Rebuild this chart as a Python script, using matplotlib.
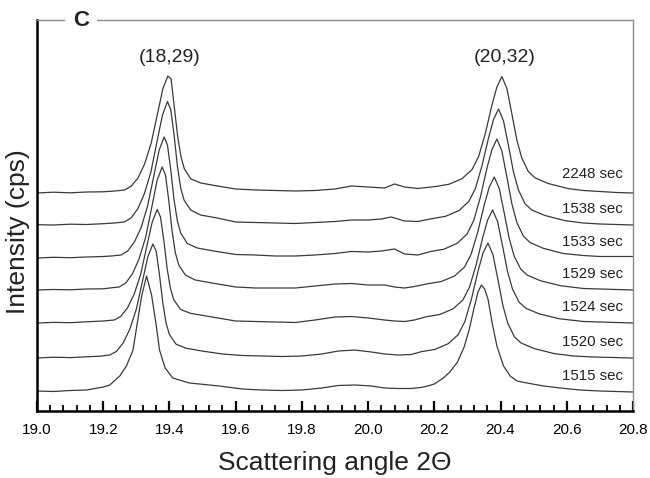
import matplotlib
matplotlib.use("Agg")
import matplotlib.pyplot as plt
from matplotlib.ticker import MultipleLocator, FormatStrFormatter

plt.rcParams['font.family'] = ['Liberation Sans', 'DejaVu Sans']

# scan labels (bottom to top) and vertical offsets of the stacked patterns
labels = ["1515 sec", "1520 sec", "1524 sec", "1529 sec", "1533 sec", "1538 sec", "2248 sec"]
offsets = [19, 53, 88, 121, 153, 186, 218]

# intensity above each pattern's own baseline
x_1515 = [19.00, 19.05, 19.10, 19.15, 19.20, 19.22, 19.25, 19.27, 19.29, 19.30, 19.316, 19.331, 19.346,
          19.36, 19.37, 19.387, 19.41, 19.46, 19.55, 19.62, 19.68, 19.74, 19.80, 19.86, 19.91, 19.96,
          20.01, 20.05, 20.09, 20.13, 20.16, 20.18, 20.20, 20.227, 20.247, 20.27, 20.29, 20.305, 20.32,
          20.332, 20.342, 20.352, 20.362, 20.374, 20.389, 20.409, 20.429, 20.45, 20.48, 20.53, 20.58,
          20.64, 20.70, 20.75, 20.80]
y_1515 = [1, 0.5, 1.5, 2, 5, 7, 16, 26, 42, 63, 96, 116, 97, 67, 42, 24, 14, 9, 6, 3, 2, 1.5, 2, 4,
          6.5, 7, 6, 4, 3.5, 3.5, 4.5, 6, 8, 14, 20, 30, 45, 62, 84, 100, 107, 103, 93, 70, 46, 26, 16,
          11, 9, 6, 4, 2, 1, 0.5, 0]

x_1520 = [19.00, 19.05, 19.10, 19.15, 19.19, 19.22, 19.24, 19.26, 19.28, 19.30, 19.32, 19.335, 19.35,
          19.36, 19.37, 19.38, 19.39, 19.40, 19.42, 19.45, 19.50, 19.56, 19.62, 19.68, 19.74, 19.80,
          19.86, 19.91, 19.96, 20.01, 20.05, 20.09, 20.13, 20.162, 20.202, 20.242, 20.272, 20.292,
          20.312, 20.332, 20.347, 20.362, 20.377, 20.392, 20.407, 20.422, 20.442, 20.462, 20.502,
          20.562, 20.62, 20.68, 20.74, 20.80]
y_1520 = [0, 0.8, 0.4, 1.2, 1.8, 3, 6.6, 15, 28.5, 48.8, 79, 101.5, 114, 106.6, 83, 55, 34.6, 23.4,
          13.8, 9.8, 6.9, 4, 2.5, 2, 1.5, 2, 4, 7, 8, 6, 4, 3, 3.5, 6.4, 8.6, 14.3, 23.3, 36.3, 58.8,
          86.9, 105, 115, 103.3, 78.5, 52.6, 34.6, 21.1, 15, 9.4, 4.4, 2, 1, 0.5, 0]

x_1524 = [19.00, 19.05, 19.10, 19.15, 19.20, 19.233, 19.253, 19.273, 19.293, 19.313, 19.333, 19.348,
          19.363, 19.373, 19.383, 19.393, 19.403, 19.413, 19.433, 19.463, 19.513, 19.60, 19.66, 19.72,
          19.78, 19.84, 19.90, 19.95, 20.00, 20.05, 20.08, 20.11, 20.14, 20.176, 20.216, 20.256,
          20.286, 20.306, 20.326, 20.346, 20.361, 20.376, 20.391, 20.406, 20.421, 20.436, 20.456,
          20.476, 20.516, 20.576, 20.65, 20.70, 20.75, 20.80]
y_1524 = [0, 0.6, 0.3, 1.2, 2, 3, 6.6, 15, 28.4, 48.5, 78.8, 101, 113.5, 106, 82.6, 54.6, 34.5, 23.3,
          13.7, 9.7, 6.9, 2, 1.5, 1, 0.5, 3, 6, 6.5, 5, 3, 2, 1.5, 3, 6.3, 8.5, 14, 22.9, 35.7, 57.8,
          85.4, 103, 113, 101.5, 77.1, 51.7, 34, 20.8, 14.8, 9.2, 4.3, 1.5, 1, 0.5, 0]

x_1529 = [19.00, 19.05, 19.10, 19.15, 19.20, 19.22, 19.248, 19.268, 19.288, 19.308, 19.328, 19.348,
          19.363, 19.378, 19.388, 19.398, 19.408, 19.418, 19.428, 19.448, 19.478, 19.528, 19.60, 19.66,
          19.72, 19.78, 19.84, 19.90, 19.95, 20.00, 20.05, 20.08, 20.11, 20.14, 20.181, 20.221, 20.261,
          20.291, 20.311, 20.331, 20.351, 20.366, 20.381, 20.396, 20.411, 20.426, 20.441, 20.461,
          20.481, 20.521, 20.581, 20.65, 20.70, 20.75, 20.80]
y_1529 = [0, 0.5, 0.2, 1, 1.2, 2, 3, 7, 16, 31, 52.5, 85, 110, 123, 115, 89.5, 59, 37, 25, 15, 10, 7,
          3, 2, 2, 2, 4, 6, 6.5, 5, 5, 3, 2, 3.5, 6.3, 8.5, 14, 22.9, 35.7, 57.8, 85.4, 103, 113, 101.5,
          77.1, 51.7, 34, 20.8, 14.8, 9.2, 4.3, 1.5, 1, 0.5, 0]

x_1533 = [19.00, 19.05, 19.10, 19.15, 19.20, 19.224, 19.254, 19.274, 19.294, 19.314, 19.334, 19.354,
          19.369, 19.384, 19.394, 19.404, 19.414, 19.424, 19.434, 19.454, 19.484, 19.534, 19.60, 19.66,
          19.72, 19.78, 19.84, 19.90, 19.95, 20.00, 20.04, 20.08, 20.11, 20.15, 20.189, 20.229, 20.269,
          20.299, 20.319, 20.339, 20.359, 20.374, 20.389, 20.404, 20.419, 20.434, 20.449, 20.469,
          20.489, 20.529, 20.589, 20.65, 20.70, 20.75, 20.80]
y_1533 = [0, 0.7, 0.3, 1, 1.5, 2, 3, 7, 16, 30, 52, 84, 108, 121, 113, 88, 58, 37, 25, 14.5, 10, 7,
          3.5, 3, 2, 2, 3, 4.5, 6.5, 6, 7, 9, 4, 3, 6.5, 8.8, 14.7, 24, 37.5, 60.8, 90, 108.5, 119, 107,
          81.2, 54.4, 35.8, 21.8, 15.5, 9.7, 4.5, 2.5, 1.5, 1.5, 1.5]

x_1538 = [19.00, 19.05, 19.10, 19.15, 19.20, 19.234, 19.264, 19.284, 19.304, 19.324, 19.344, 19.364,
          19.379, 19.394, 19.404, 19.414, 19.424, 19.434, 19.444, 19.464, 19.494, 19.544, 19.60, 19.66,
          19.72, 19.78, 19.84, 19.90, 19.95, 20.00, 20.04, 20.07, 20.11, 20.15, 20.194, 20.234, 20.274,
          20.304, 20.324, 20.344, 20.364, 20.379, 20.394, 20.409, 20.424, 20.439, 20.454, 20.474,
          20.494, 20.534, 20.594, 20.65, 20.70, 20.75, 20.80]
y_1538 = [0.3, 0, 0.8, 0.5, 1.3, 2, 3, 7, 16, 31, 53, 86, 110, 123.5, 115.5, 90, 59, 37, 25, 15, 10,
          7, 3, 2.5, 2, 1.5, 2.5, 3.5, 5, 5, 6, 8, 4, 3.5, 6.4, 8.7, 14.4, 23.4, 36.5, 59.3, 87.5,
          105.8, 116, 104, 79.2, 53, 35, 21.3, 15, 9.5, 4.4, 2, 1, 0.5, 0]

x_2248 = [19.00, 19.05, 19.10, 19.15, 19.20, 19.235, 19.265, 19.285, 19.305, 19.325, 19.345, 19.365,
          19.380, 19.395, 19.405, 19.415, 19.425, 19.435, 19.445, 19.465, 19.495, 19.545, 19.60, 19.66,
          19.72, 19.78, 19.84, 19.90, 19.95, 20.00, 20.05, 20.08, 20.11, 20.15, 20.204, 20.244, 20.284,
          20.314, 20.334, 20.354, 20.374, 20.389, 20.404, 20.419, 20.434, 20.449, 20.464, 20.484,
          20.504, 20.544, 20.604, 20.65, 20.70, 20.75, 20.80]
y_2248 = [0, 0.8, 0.2, 1, 1.2, 2, 3, 7, 15, 29, 50, 81, 104, 117, 114, 85, 56, 36, 24, 14, 10, 7, 4,
          3, 2.5, 2, 2.5, 4, 7, 6, 5, 9, 6, 4.5, 6.5, 8.7, 14.4, 23.5, 36.7, 59.5, 88, 106, 116.5,
          104.6, 79.5, 53.3, 35, 21.4, 15.2, 9.5, 4.4, 2.5, 1.5, 0.5, 0]

xs = [x_1515, x_1520, x_1524, x_1529, x_1533, x_1538, x_2248]
ys = [y_1515, y_1520, y_1524, y_1529, y_1533, y_1538, y_2248]

peak_labels = ["(18,29)", "(20,32)"]
peak_pos = [19.402, 20.413]

fig = plt.figure(figsize=(6.5, 4.78), dpi=100)
ax = fig.add_axes([37 / 650, 67 / 478, 596 / 650, 391 / 478])

for x, y, off, lab in zip(xs, ys, offsets, labels):
    ax.plot(x, [v + off for v in y], color='#3a3a3a', lw=0.9)
    dy = 19 if lab == "2248 sec" else 16
    ax.text(20.77, off + dy, lab, ha='right', va='center', fontsize=10.8, color='#222222')

for lab, px in zip(peak_labels, peak_pos):
    ax.text(px, 354, lab, ha='center', va='center', fontsize=14, color='#222222')

ax.set_xlim(19.0, 20.8)
ax.set_ylim(0, 391)
ax.set_yticks([])
ax.xaxis.set_major_locator(MultipleLocator(0.2))
ax.xaxis.set_minor_locator(MultipleLocator(0.04))
ax.xaxis.set_major_formatter(FormatStrFormatter('%.1f'))
ax.tick_params(axis='x', which='major', direction='in', length=7, width=1.6, pad=9, labelsize=11)
ax.tick_params(axis='x', which='minor', direction='in', length=4, width=1.3)

ax.spines['left'].set_linewidth(1.8)
ax.spines['bottom'].set_linewidth(1.8)
ax.spines['right'].set_color('#8a8a8a')
ax.spines['top'].set_color('#8a8a8a')
ax.spines['right'].set_linewidth(1.0)
ax.spines['top'].set_linewidth(1.0)

ax.text((81 - 37) / 596, 1.0, "C", transform=ax.transAxes, ha='center', va='center',
        fontsize=16, fontweight='bold', color='#222222',
        bbox=dict(facecolor='white', edgecolor='none', boxstyle='square,pad=0.35'))

ax.set_xlabel("Scattering angle 2\u0398", fontsize=19, color='#222222')
ax.xaxis.label.set_va('center')
ax.xaxis.set_label_coords(0.5, (411 - 463) / 391)
ax.set_ylabel("Intensity (cps)", fontsize=19, color='#222222')
ax.yaxis.label.set_va('center')
ax.yaxis.set_label_coords((18 - 37) / 596, (411 - 232) / 391)

fig.savefig("out.png", dpi=100)
